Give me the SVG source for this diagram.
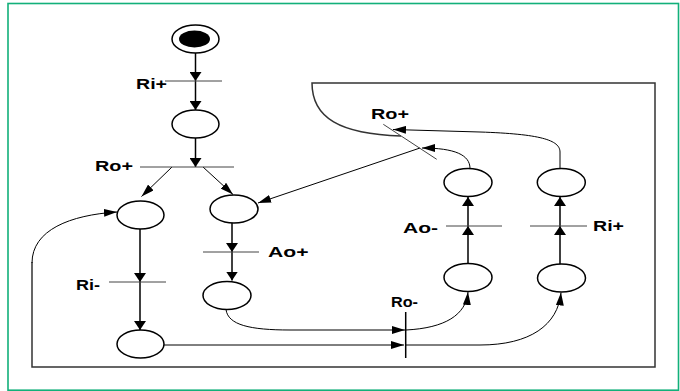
<svg xmlns="http://www.w3.org/2000/svg" width="680" height="391" viewBox="0 0 680 391">
  <style>
    .place { fill: #ffffff; stroke: #000000; stroke-width: 1.5; }
    .bar { stroke: #444444; stroke-width: 1; }
    .bar-dark { stroke: #000000; stroke-width: 1.5; }
    .arc { fill: none; stroke: #000000; stroke-width: 1.5; }
    .arc-thin { fill: none; stroke: #000000; stroke-width: 1; }
    .loop { fill: none; stroke: #333333; stroke-width: 1.5; }
    .lbl { font-family: "Liberation Sans", Arial, sans-serif; font-weight: bold; font-size: 14px; fill: #000000; }
  </style>
  <defs>
    <marker id="head" markerUnits="userSpaceOnUse" markerWidth="9" markerHeight="12" refX="9" refY="6" orient="auto">
      <path d="M0,0 L9,6 L0,12 z" fill="#000000"/>
    </marker>
    <marker id="head-thin" markerUnits="userSpaceOnUse" markerWidth="13" markerHeight="8" refX="13" refY="4" orient="auto">
      <path d="M0,0 L13,4 L0,8 z" fill="#000000"/>
    </marker>
  </defs>

  <rect x="8" y="3.5" width="670.5" height="386.7" fill="#ffffff" stroke="#12b07a" stroke-width="1.6"/>

  <g id="connectors">
    <!-- left-hand branch -->
    <path class="arc" d="M195.5,53 V81" marker-end="url(#head)"/>
    <path class="arc" d="M195.5,81 V110" marker-end="url(#head)"/>
    <path class="arc" d="M195.5,138 V167" marker-end="url(#head)"/>
    <path class="arc-thin" d="M172,167 L141.5,196.5" marker-end="url(#head-thin)"/>
    <path class="arc-thin" d="M203,167 L233,194.5" marker-end="url(#head-thin)"/>
    <path class="arc" d="M140,229 V282" marker-end="url(#head)"/>
    <path class="arc" d="M140,282 V330" marker-end="url(#head)"/>
    <path class="arc" d="M232,223 V252" marker-end="url(#head)"/>
    <path class="arc" d="M232,252 V280.5" marker-end="url(#head)"/>
    <!-- into and out of Ro- -->
    <path class="arc-thin" d="M226,309.5 C228,325 250,330 290,330 L405,330" marker-end="url(#head-thin)"/>
    <path class="arc-thin" d="M164,345 L404,345" marker-end="url(#head-thin)"/>
    <path class="arc-thin" d="M406,330 C445,328 466,315 468,292" marker-end="url(#head-thin)"/>
    <path class="arc-thin" d="M406,345 H480 C530,345 558,325 561,292.5" marker-end="url(#head-thin)"/>
    <!-- right-hand columns -->
    <path class="arc" d="M468,263.5 V226" marker-end="url(#head)"/>
    <path class="arc" d="M468,226 V197" marker-end="url(#head)"/>
    <path class="arc" d="M560,264 V226" marker-end="url(#head)"/>
    <path class="arc" d="M560,226 V197" marker-end="url(#head)"/>
    <!-- into and out of the tilted Ro+ -->
    <path class="arc-thin" d="M470,168.5 C470,155 455,148 422,148" marker-end="url(#head-thin)"/>
    <path class="arc-thin" d="M560,168.5 V152 C560,140 540,134 480,132 L393,129.5" marker-end="url(#head-thin)"/>
    <path class="arc-thin" d="M420,148 L258,203" marker-end="url(#head-thin)"/>
    <!-- return loop around the whole net -->
    <path class="loop" d="M401,136 C340,134 312,118 312,83 H655 V367 H32 V262" />
    <path class="arc-thin" d="M32,263 C32,230 70,215 117,212" marker-end="url(#head-thin)"/>
  </g>

  <g id="start">
    <ellipse class="place" cx="195.5" cy="39" rx="23.5" ry="14"/>
    <ellipse cx="194.5" cy="39" rx="15.5" ry="8.5" fill="#000000"/>
  </g>
  <g id="p1"><ellipse class="place" cx="195.5" cy="124" rx="23.5" ry="14"/></g>
  <g id="p-left-1"><ellipse class="place" cx="140.5" cy="215" rx="23.5" ry="14"/></g>
  <g id="p-left-2"><ellipse class="place" cx="140.5" cy="344" rx="23.5" ry="14"/></g>
  <g id="p-ack-1"><ellipse class="place" cx="234" cy="209" rx="24" ry="14"/></g>
  <g id="p-ack-2"><ellipse class="place" cx="227" cy="295.5" rx="24" ry="14"/></g>
  <g id="p-mid-1"><ellipse class="place" cx="468" cy="182.5" rx="24" ry="14"/></g>
  <g id="p-mid-2"><ellipse class="place" cx="468" cy="277.5" rx="24" ry="14"/></g>
  <g id="p-right-1"><ellipse class="place" cx="561.3" cy="182.5" rx="24" ry="14"/></g>
  <g id="p-right-2"><ellipse class="place" cx="561.5" cy="278" rx="24" ry="14"/></g>

  <g id="t-ri-plus-top">
    <line class="bar" x1="165" y1="81" x2="222" y2="81"/>
    <text class="lbl" x="136" y="88.5" textLength="31" lengthAdjust="spacingAndGlyphs">Ri+</text>
  </g>
  <g id="t-ro-plus-left">
    <line class="bar" x1="140" y1="167" x2="234" y2="167"/>
    <text class="lbl" x="95" y="171" textLength="38" lengthAdjust="spacingAndGlyphs">Ro+</text>
  </g>
  <g id="t-ri-minus">
    <line class="bar" x1="109" y1="282" x2="166" y2="282"/>
    <text class="lbl" x="76" y="289.5" textLength="24" lengthAdjust="spacingAndGlyphs">Ri-</text>
  </g>
  <g id="t-ao-plus">
    <line class="bar" x1="203" y1="252" x2="259" y2="252"/>
    <text class="lbl" x="268" y="256.5" textLength="40.5" lengthAdjust="spacingAndGlyphs">Ao+</text>
  </g>
  <g id="t-ao-minus">
    <line class="bar" x1="446" y1="226" x2="502" y2="226"/>
    <text class="lbl" x="403" y="232.5" textLength="35" lengthAdjust="spacingAndGlyphs">Ao-</text>
  </g>
  <g id="t-ri-plus-right">
    <line class="bar" x1="530" y1="226" x2="587" y2="226"/>
    <text class="lbl" x="593" y="231" textLength="31" lengthAdjust="spacingAndGlyphs">Ri+</text>
  </g>
  <g id="t-ro-minus">
    <line class="bar-dark" x1="405.7" y1="312" x2="405.7" y2="358"/>
    <text class="lbl" x="391" y="307" textLength="27" lengthAdjust="spacingAndGlyphs">Ro-</text>
  </g>
  <g id="t-ro-plus-top">
    <line class="bar" x1="383.3" y1="124.3" x2="436.7" y2="159.3"/>
    <text class="lbl" x="371" y="118.5" textLength="38" lengthAdjust="spacingAndGlyphs">Ro+</text>
  </g>
</svg>
